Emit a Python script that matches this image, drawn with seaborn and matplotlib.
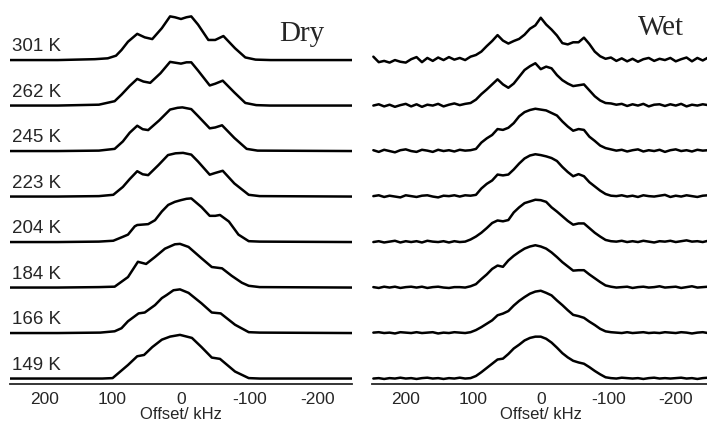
import matplotlib
matplotlib.use("Agg")
import matplotlib.pyplot as plt
import seaborn as sns
import pandas as pd
from matplotlib.ticker import MultipleLocator

# temperatures, top trace first
temps = [301, 262, 245, 223, 204, 184, 166, 149]

# ---- dry sample: (offset kHz, normalised intensity) ----
dry_301_off = [250, 180, 126, 107, 95, 87, 77.5, 64, 53, 42, 28, 16, 9, 0, -8, -15, -25, -40, -50, -62, -79, -94, -109, -131, -250]
dry_301_int = [0, 0, 0.02, 0.04, 0.1, 0.23, 0.42, 0.6, 0.52, 0.48, 0.73, 1.0, 0.98, 0.94, 0.98, 1.0, 0.81, 0.46, 0.46, 0.55, 0.27, 0.06, 0.01, 0, 0]

dry_262_off = [250, 180, 120, 97, 87, 75, 64, 55, 45, 30, 16, 8, 0, -8, -15, -25, -42, -50, -61, -78, -94, -110, -130, -250]
dry_262_int = [0, 0, 0.02, 0.1, 0.25, 0.45, 0.61, 0.55, 0.52, 0.74, 1.0, 0.98, 0.96, 0.99, 0.99, 0.8, 0.46, 0.5, 0.57, 0.3, 0.06, 0.01, 0, 0]

dry_245_off = [250, 180, 120, 97, 85, 75, 64, 56, 48, 32, 16, 5, -2, -15, -25, -42, -50, -60, -78, -96, -112, -250]
dry_245_int = [0, 0, 0.01, 0.05, 0.22, 0.42, 0.58, 0.5, 0.48, 0.7, 0.95, 0.99, 1.0, 0.96, 0.8, 0.52, 0.54, 0.59, 0.3, 0.05, 0.01, 0]

dry_223_off = [250, 180, 120, 99, 85, 75, 64, 56, 48, 33, 19, 8, -3, -15, -25, -42, -50, -61, -78, -99, -115, -250]
dry_223_int = [0, 0, 0.01, 0.04, 0.22, 0.4, 0.58, 0.51, 0.49, 0.72, 0.95, 0.99, 1.0, 0.96, 0.8, 0.5, 0.54, 0.59, 0.3, 0.04, 0.01, 0]

dry_204_off = [250, 180, 120, 99, 85, 77.5, 67.6, 64, 48, 38, 28, 18.7, 9, 0, -8, -15, -30, -42, -50, -57, -70, -84, -99, -115, -250]
dry_204_int = [0, 0, 0.01, 0.03, 0.12, 0.17, 0.36, 0.39, 0.41, 0.5, 0.7, 0.85, 0.92, 0.96, 0.99, 1.0, 0.8, 0.6, 0.6, 0.62, 0.47, 0.17, 0.02, 0.01, 0]

dry_184_off = [250, 180, 120, 97, 77.5, 63, 51, 38, 23.5, 9, 1.5, -11, -30, -45, -60, -74, -89, -99, -115, -250]
dry_184_int = [0, 0, 0.01, 0.02, 0.24, 0.59, 0.54, 0.7, 0.89, 0.99, 1.0, 0.93, 0.67, 0.47, 0.44, 0.27, 0.11, 0.04, 0.01, 0]

dry_166_off = [250, 180, 118, 97, 87, 77.5, 62, 53, 38, 28, 21, 11, 1.5, -11, -30, -45, -58, -79, -99, -115, -250]
dry_166_int = [0, 0, 0.01, 0.04, 0.11, 0.27, 0.45, 0.47, 0.64, 0.8, 0.87, 0.98, 1.0, 0.92, 0.68, 0.47, 0.45, 0.19, 0.02, 0.01, 0]

dry_149_off = [250, 180, 115, 100, 77.5, 64, 54, 42, 28, 16, 1.5, -16, -30, -45, -57, -79, -99, -115, -250]
dry_149_int = [0, 0, 0.0, 0.01, 0.31, 0.51, 0.54, 0.72, 0.89, 0.96, 1.0, 0.93, 0.72, 0.48, 0.45, 0.16, 0.01, 0, 0]

# ---- wet sample: intensities sampled every 8 kHz from 248 to -248 kHz ----
wet_offset = list(range(248, -249, -8))

wet_301 = [0.08, -0.05, -0.02, -0.06, 0.00, -0.04, -0.06, 0.02,
           0.07, -0.05, 0.05, -0.02, 0.06, 0.00, 0.07, 0.01,
           0.05, 0.00, 0.08, 0.12, 0.20, 0.33, 0.45, 0.59,
           0.46, 0.39, 0.45, 0.50, 0.60, 0.74, 0.82, 1.00,
           0.84, 0.72, 0.58, 0.40, 0.37, 0.42, 0.42, 0.53,
           0.38, 0.20, 0.09, 0.03, 0.06, -0.02, 0.04, -0.03,
           0.03, -0.04, 0.02, 0.05, -0.02, 0.03, 0.00, 0.05,
           -0.03, 0.02, 0.06, -0.03, 0.05, -0.01, 0.06]
wet_262 = [0.00, 0.03, -0.02, 0.02, -0.03, 0.01, 0.04, -0.02,
           0.03, -0.03, 0.02, 0.00, 0.04, -0.02, 0.02, 0.05,
           0.01, 0.04, 0.06, 0.14, 0.27, 0.38, 0.50, 0.62,
           0.50, 0.42, 0.52, 0.68, 0.84, 0.93, 1.00, 0.86,
           0.92, 0.88, 0.72, 0.60, 0.52, 0.46, 0.48, 0.50,
           0.36, 0.22, 0.12, 0.06, 0.05, 0.02, 0.04, -0.01,
           0.03, 0.00, 0.04, -0.02, 0.02, 0.03, -0.01, 0.03,
           0.00, 0.04, -0.02, 0.02, 0.00, 0.03, 0.01]
wet_245 = [0.02, -0.02, 0.03, 0.00, -0.03, 0.02, 0.04, 0.00,
           -0.02, 0.03, 0.01, -0.02, 0.03, 0.00, 0.02, -0.01,
           0.03, 0.01, 0.02, 0.05, 0.20, 0.30, 0.38, 0.52,
           0.50, 0.55, 0.66, 0.82, 0.92, 0.97, 1.00, 0.98,
           0.96, 0.90, 0.84, 0.70, 0.58, 0.48, 0.52, 0.50,
           0.34, 0.24, 0.13, 0.07, 0.04, 0.01, 0.03, -0.01,
           0.02, 0.04, -0.01, 0.02, 0.00, 0.03, -0.02, 0.02,
           0.04, 0.00, 0.02, -0.01, 0.03, 0.01, 0.02]
wet_223 = [0.01, 0.03, -0.01, 0.02, 0.00, -0.02, 0.03, 0.01,
           -0.01, 0.02, 0.03, 0.00, -0.02, 0.02, 0.01, 0.03,
           0.00, 0.03, 0.02, 0.04, 0.19, 0.30, 0.38, 0.52,
           0.50, 0.52, 0.64, 0.78, 0.90, 0.97, 1.00, 0.98,
           0.95, 0.91, 0.84, 0.70, 0.58, 0.48, 0.53, 0.48,
           0.34, 0.24, 0.14, 0.06, 0.02, 0.01, 0.03, 0.00,
           0.02, -0.01, 0.03, 0.01, 0.00, 0.02, 0.04, -0.01,
           0.02, 0.00, 0.03, 0.01, -0.01, 0.02, 0.03]
wet_204 = [0.00, 0.02, -0.01, 0.01, 0.03, -0.01, 0.02, 0.00,
           0.02, -0.01, 0.03, 0.01, 0.00, 0.02, -0.01, 0.02,
           0.00, 0.01, 0.06, 0.13, 0.22, 0.33, 0.45, 0.51,
           0.49, 0.52, 0.70, 0.82, 0.92, 0.96, 1.00, 0.99,
           0.95, 0.82, 0.72, 0.61, 0.50, 0.41, 0.44, 0.44,
           0.33, 0.22, 0.13, 0.05, 0.02, 0.01, 0.03, 0.00,
           0.02, 0.00, 0.03, 0.01, -0.01, 0.02, 0.01, 0.03,
           0.00, 0.02, 0.04, 0.01, 0.02, 0.00, 0.03]
wet_184 = [0.01, -0.01, 0.02, 0.00, 0.02, -0.01, 0.01, 0.02,
           0.00, 0.02, -0.01, 0.01, 0.02, 0.00, -0.01, 0.01,
           0.01, 0.00, 0.03, 0.08, 0.20, 0.31, 0.44, 0.52,
           0.49, 0.64, 0.75, 0.84, 0.92, 0.97, 1.00, 0.97,
           0.92, 0.83, 0.72, 0.60, 0.50, 0.40, 0.41, 0.41,
           0.31, 0.22, 0.13, 0.05, 0.02, 0.00, 0.01, 0.02,
           -0.01, 0.01, 0.02, 0.00, 0.01, 0.03, 0.00, 0.01,
           0.02, -0.01, 0.01, 0.03, 0.00, 0.01, 0.02]
wet_166 = [0.01, 0.02, 0.00, 0.01, -0.01, 0.02, 0.01, 0.00,
           0.02, 0.00, 0.01, 0.02, -0.01, 0.01, 0.00, 0.02,
           0.01, 0.00, 0.02, 0.07, 0.14, 0.22, 0.30, 0.42,
           0.46, 0.52, 0.65, 0.76, 0.85, 0.93, 0.98, 1.00,
           0.95, 0.89, 0.77, 0.66, 0.54, 0.43, 0.40, 0.36,
           0.27, 0.19, 0.10, 0.04, 0.02, 0.01, 0.00, 0.02,
           0.00, 0.01, 0.02, 0.00, 0.01, 0.00, 0.02, 0.01,
           0.00, 0.02, 0.01, -0.01, 0.01, 0.02, 0.00]
wet_149 = [0.00, 0.01, -0.01, 0.01, 0.00, 0.02, 0.00, 0.01,
           -0.01, 0.01, 0.02, 0.00, 0.01, -0.01, 0.01, 0.00,
           0.02, 0.00, 0.01, 0.06, 0.15, 0.25, 0.35, 0.45,
           0.47, 0.58, 0.71, 0.80, 0.90, 0.96, 0.99, 0.99,
           0.94, 0.85, 0.73, 0.60, 0.50, 0.42, 0.38, 0.35,
           0.27, 0.18, 0.10, 0.03, 0.01, 0.00, 0.02, 0.01,
           0.00, 0.01, -0.01, 0.01, 0.02, 0.00, 0.01, 0.00,
           0.01, 0.02, 0.00, 0.01, -0.01, 0.01, 0.02]

dry = {301: (dry_301_off, dry_301_int), 262: (dry_262_off, dry_262_int),
       245: (dry_245_off, dry_245_int), 223: (dry_223_off, dry_223_int),
       204: (dry_204_off, dry_204_int), 184: (dry_184_off, dry_184_int),
       166: (dry_166_off, dry_166_int), 149: (dry_149_off, dry_149_int)}
wet = {301: (wet_offset, wet_301), 262: (wet_offset, wet_262),
       245: (wet_offset, wet_245), 223: (wet_offset, wet_223),
       204: (wet_offset, wet_204), 184: (wet_offset, wet_184),
       166: (wet_offset, wet_166), 149: (wet_offset, wet_149)}


def stacked(table, amp):
    # each spectrum sits on its own baseline, coldest at the bottom
    frames = []
    for i, t in enumerate(temps):
        off, inten = table[t]
        level = len(temps) - 1 - i
        frames.append(pd.DataFrame({"offset": off,
                                    "y": [level + amp * v for v in inten],
                                    "temp": t}))
    return pd.concat(frames, ignore_index=True)


sns.set_style("white")
plt.rcParams["font.family"] = ["Liberation Sans", "DejaVu Sans"]
plt.rcParams["axes.unicode_minus"] = False

fig = plt.figure(figsize=(7.07, 4.25), dpi=100)
ax1 = fig.add_axes([10 / 707, 41 / 425, 342 / 707, 384 / 425])
ax2 = fig.add_axes([372 / 707, 41 / 425, 337.5 / 707, 384 / 425])

for ax, table, amp in [(ax1, dry, 0.96), (ax2, wet, 0.93)]:
    sns.lineplot(data=stacked(table, amp), x="offset", y="y", units="temp",
                 estimator=None, sort=False, color="black", lw=1.8,
                 legend=False, ax=ax)
    ax.set_xlim(250, -250)
    ax.set_ylim(-0.12, 8.32)
    for s in ["top", "right", "left"]:
        ax.spines[s].set_visible(False)
    ax.spines["bottom"].set_linewidth(1.3)
    ax.set_yticks([])
    ax.set_xticks([200, 100, 0, -100, -200])
    ax.xaxis.set_minor_locator(MultipleLocator(50))
    ax.tick_params(axis="x", which="major", direction="in", length=4, width=1.1,
                   labelsize=12.5, pad=5.5)
    ax.tick_params(axis="x", which="minor", direction="in", length=2, width=1)
    ax.set_ylabel("")
    ax.set_xlabel("Offset/ kHz", fontsize=12, labelpad=0.5)

# temperature labels on the dry panel
for i, t in enumerate(temps):
    ax1.text(247, len(temps) - 1 - i + 0.29, f"{t} K", fontsize=13.5,
             ha="left", va="center")

ax1.text(-143, 7.42, "Dry", fontsize=21, family="Liberation Serif",
         ha="left", va="baseline")
ax2.text(-144, 7.55, "Wet", fontsize=21, family="Liberation Serif",
         ha="left", va="baseline")

fig.savefig("out.png", dpi=100)
